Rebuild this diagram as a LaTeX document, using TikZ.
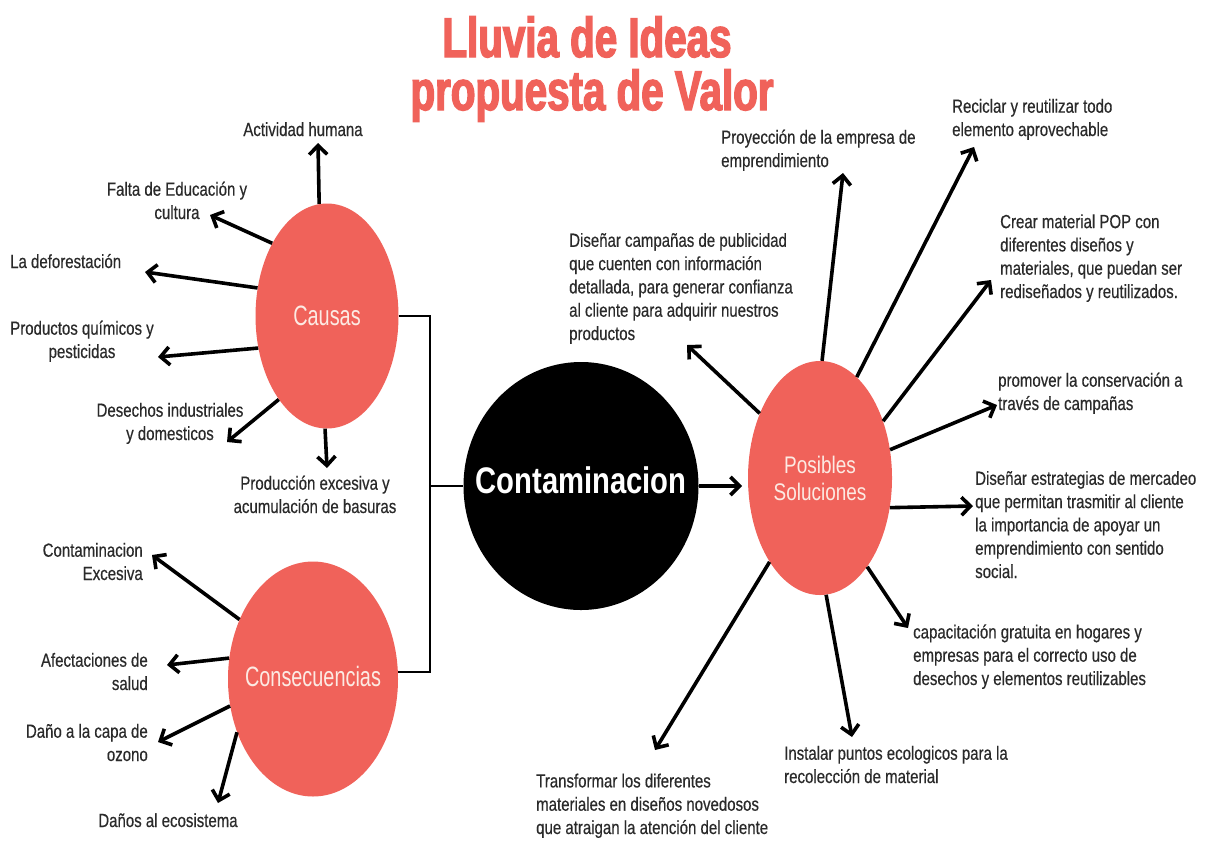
\documentclass[tikz,border=0pt]{standalone}
\usepackage{fontspec}
\setmainfont{Liberation Sans}
\newfontfamily\bodyfont{Liberation Sans}[FakeStretch=0.79,FakeBold=0.4]
\newfontfamily\bubfont{Liberation Sans}[FakeStretch=0.71]
\newfontfamily\solfont{Liberation Sans}[FakeStretch=0.79]
\newfontfamily\titlefont{Liberation Sans}[FakeStretch=0.72,FakeBold=2.5]
\usetikzlibrary{shapes.geometric,arrows.meta}
\definecolor{coral}{HTML}{F0625A}
\definecolor{ink}{HTML}{2A2A2A}
\definecolor{pale}{HTML}{FCEAE3}
\tikzset{
  bubble/.style={ellipse, fill=coral, inner sep=0pt, text=pale, align=center},
  blackbubble/.style={ellipse, fill=black, inner sep=0pt, text=white},
  lbl/.style={inner sep=0pt, text=ink, font=\bodyfont\fontsize{19}{23.3}\selectfont},
  titletext/.style={inner sep=0pt, text=coral, font=\titlefont\bfseries\fontsize{56}{56}\selectfont},
  arr/.style={line width=3.6pt, draw=black, -{Straight Barb[length=9pt,width=18pt]}},
  link/.style={line width=2pt, draw=black}
}
\begin{document}
\begin{tikzpicture}[x=1pt,y=-1pt]
\useasboundingbox[fill=white] (0,0) rectangle (1206,841);

% title
\node[titletext, anchor=base] (title1) at (587,57) {Lluvia de Ideas};
\node[titletext, anchor=base] (title2) at (592,110) {propuesta de Valor};

% bubbles
\node[bubble, minimum width=143pt, minimum height=225pt,
      font=\bubfont\fontsize{28}{30}\selectfont] (causas) at (327,316)
      {\raisebox{-9pt}[0pt][0pt]{\makebox[0pt]{Causas}}};
\node[bubble, minimum width=170pt, minimum height=235pt,
      font=\bubfont\fontsize{28}{30}\selectfont] (conse) at (313,679)
      {\raisebox{-7pt}[0pt][0pt]{\makebox[0pt]{Consecuencias}}};
\node[blackbubble, minimum width=235pt, minimum height=248pt,
      font=\solfont\bfseries\fontsize{37}{40}\selectfont] (conta) at (581,486)
      {\raisebox{-7pt}[0pt][0pt]{\makebox[0pt]{Contaminacion}}};
\node[bubble, minimum width=144pt, minimum height=234pt,
      font=\solfont\fontsize{24}{27}\selectfont] (posibles) at (820,478) {Posibles\\Soluciones};

% connectors between bubbles
\coordinate (jn) at (430,486);
\draw[link] (causas.east) -| (jn) |- (conse.5);
\draw[link] (jn) -- (conta.west);
\coordinate (ctip) at (742,486);
\draw[arr] (conta.east) -- (ctip);

% Causas
\node[lbl, anchor=base] (t1) at (303,136) {Actividad humana};
\node[lbl, anchor=base, align=center] (t2) at (177,219) {Falta de Educación y\\cultura};
\node[lbl, anchor=base west] (t3) at (10,268) {La deforestación};
\node[lbl, anchor=base, align=center] (t4) at (82,358) {Productos químicos y\\pesticidas};
\node[lbl, anchor=base, align=center] (t5) at (170,440) {Desechos industriales\\y domesticos};
\node[lbl, anchor=base, align=center] (t6) at (315,513) {Producción excesiva y\\acumulación de basuras};

\coordinate (ca1) at (318,143);
\coordinate (ca2) at (210,215);
\coordinate (ca3) at (145,272);
\coordinate (ca4) at (158,357);
\coordinate (ca5) at (227,442);
\coordinate (ca6) at (327,468);
\draw[arr] (causas.94.8) -- (ca1);
\draw[arr] (causas.127) -- (ca2);
\draw[arr] (causas.158.7) -- (ca3);
\draw[arr] (causas.205.3) -- (ca4);
\draw[arr] (causas.240.2) -- (ca5);
\draw[arr] (causas.269) -- (ca6);

% Consecuencias
\node[lbl, anchor=base east, align=right] (c1) at (143,580) {Contaminacion\\Excesiva};
\node[lbl, anchor=base east, align=right] (c2) at (148,690) {Afectaciones de\\salud};
\node[lbl, anchor=base east, align=right] (c3) at (148,761) {Daño a la capa de\\ozono};
\node[lbl, anchor=base] (c4) at (168,827) {Daños al ecosistema};

\coordinate (ce1) at (152,555);
\coordinate (ce2) at (167,665);
\coordinate (ce3) at (158,742);
\coordinate (ce4) at (218,803);
\draw[arr] (conse.141.3) -- (ce1);
\draw[arr] (conse.166.8) -- (ce2);
\draw[arr] (conse.198.8) -- (ce3);
\draw[arr] (conse.215.7) -- (ce4);

% Posibles Soluciones
\node[lbl, anchor=base west, align=left] (s1) at (569,340) {Diseñar campañas de publicidad\\que cuenten con información\\detallada, para generar confianza\\al cliente para adquirir nuestros\\productos};
\node[lbl, anchor=base west, align=left] (s2) at (721,167) {Proyección de la empresa de\\emprendimiento};
\node[lbl, anchor=base west, align=left] (s3) at (952,136) {Reciclar y reutilizar todo\\elemento aprovechable};
\node[lbl, anchor=base west, align=left] (s4) at (1000,298) {Crear material POP con\\diferentes diseños y\\materiales, que puedan ser\\rediseñados y reutilizados.};
\node[lbl, anchor=base west, align=left] (s5) at (998,410) {promover la conservación a\\través de campañas};
\node[lbl, anchor=base west, align=left] (s6) at (975,578) {Diseñar estrategias de mercadeo\\que permitan trasmitir al cliente\\la importancia de apoyar un\\emprendimiento con sentido\\social.};
\node[lbl, anchor=base west, align=left] (s7) at (913,685) {capacitación gratuita en hogares y\\empresas para el correcto uso de\\desechos y elementos reutilizables};
\node[lbl, anchor=base west, align=left] (s8) at (784,783) {Instalar puntos ecologicos para la\\recolección de material};
\node[lbl, anchor=base west, align=left] (s9) at (536,834) {Transformar los diferentes\\materiales en diseños novedosos\\que atraigan la atención del cliente};

\coordinate (so1) at (687,345);
\coordinate (so2) at (843,173);
\coordinate (so3) at (974,147);
\coordinate (so4) at (991,280);
\coordinate (so5) at (997,405);
\coordinate (so6) at (973,506);
\coordinate (so7) at (908,628);
\coordinate (so8) at (852,737);
\coordinate (so9) at (655,750);
\draw[arr] (posibles.133.6) -- (so1);
\draw[arr] (posibles.89) -- (so2);
\draw[arr] (posibles.70) -- (so3);
\draw[arr] (posibles.42.5) -- (so4);
\draw[arr] (posibles.22) -- (so5);
\draw[arr] (posibles.-23) -- (so6);
\draw[arr] (posibles.298) -- (so7);
\draw[arr] (posibles.273.4) -- (so8);
\draw[arr] (posibles.239.5) -- (so9);
\end{tikzpicture}
\end{document}
